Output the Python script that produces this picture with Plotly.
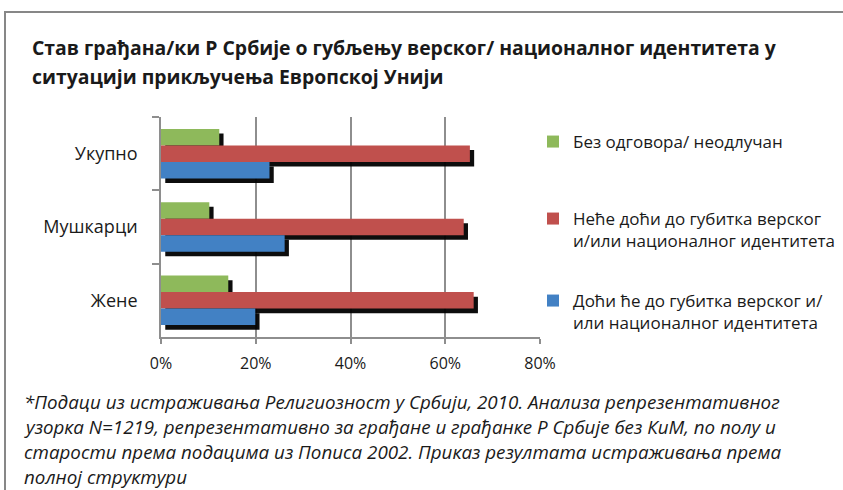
import plotly.graph_objects as go

# ---- data ----
categories = ["Укупно", "Мушкарци", "Жене"]
no_answer = [12.3, 10.2, 14.2]
will_not_lose = [65.2, 63.9, 66.0]
will_lose = [22.9, 26.1, 19.9]
series_names = [
    "Без одговора/ неодлучан",
    "Неће доћи до губитка верског<br>и/или националног идентитета",
    "Доћи ће до губитка верског и/<br>или националног идентитета",
]
x_ticks = [0, 20, 40, 60, 80]
x_tick_labels = ["0%", "20%", "40%", "60%", "80%"]
title_lines = [
    "Став грађана/ки Р Србије о губљењу верског/ националног идентитета у",
    "ситуацији прикључења Европској Унији",
]
note_lines = [
    "*Подаци из истраживања Религиозност у Србији, 2010. Анализа репрезентативног",
    "узорка N=1219, репрезентативно за грађане и грађанке Р Србије без КиМ, по полу и",
    "старости према подацима из Пописа 2002. Приказ резултата истраживања према",
    "полној структури",
]

# ---- layout geometry (pixels) ----
W, H = 843, 490
L, R, T, B = 161, 303, 117, 153
PW, PH = W - L - R, H - T - B


def px(x):
    return (x - L) / PW


def py(y):
    return (H - B - y) / PH


FONT = "Open Sans, Noto Sans, DejaVu Sans, sans-serif"
colors = ["#8EB95B", "#C0504D", "#4281C4"]
values = [no_answer, will_not_lose, will_lose]
bar_w = 0.225
offsets = [-0.3375, -0.1125, 0.1125]
shadow_dx = 0.9
shadow_dy = 0.062

fig = go.Figure()

# shadows first
for vals, off in zip(values, offsets):
    fig.add_trace(go.Bar(
        y=categories, x=vals, base=shadow_dx, orientation="h",
        width=bar_w, offset=off + shadow_dy,
        marker=dict(color="rgba(0,0,0,0.95)", line=dict(width=0)),
        showlegend=False, hoverinfo="skip",
    ))

legend_ids = ["legend", "legend2", "legend3"]
for vals, off, col, name, lg in zip(values, offsets, colors, series_names, legend_ids):
    fig.add_trace(go.Bar(
        y=categories, x=vals, orientation="h", name=name,
        width=bar_w, offset=off,
        marker=dict(color=col, line=dict(width=0)),
        legend=lg,
    ))

legend_common = dict(
    font=dict(family=FONT, size=17, color="#1a1a1a"),
    bgcolor="rgba(0,0,0,0)", borderwidth=0, xanchor="left",
    valign="top", itemclick=False, itemdoubleclick=False,
)

fig.update_layout(
    width=W, height=H,
    margin=dict(l=L, r=R, t=T, b=B, pad=0, autoexpand=False),
    paper_bgcolor="white", plot_bgcolor="white",
    barmode="overlay",
    font=dict(family=FONT, color="#1a1a1a"),
    xaxis=dict(
        range=[0, 80], tickvals=x_ticks, ticktext=x_tick_labels,
        showgrid=True, gridcolor="#8E8E8E", gridwidth=1.6,
        showline=True, linecolor="#8E8E8E", linewidth=1.6,
        ticks="outside", ticklen=5, tickcolor="#8E8E8E", tickwidth=1.6,
        tickfont=dict(family=FONT, size=16, color="#1a1a1a"),
        ticklabelstandoff=6, zeroline=False, fixedrange=True, automargin=False,
    ),
    yaxis=dict(
        categoryorder="array", categoryarray=categories, autorange="reversed",
        showgrid=False, showline=True, linecolor="#8E8E8E", linewidth=1.6,
        ticks="outside", tickson="boundaries", ticklen=7, tickcolor="#8E8E8E", tickwidth=1.6,
        tickfont=dict(family=FONT, size=18, color="#1a1a1a"),
        ticklabelstandoff=18, fixedrange=True, automargin=False,
    ),
    legend=dict(x=px(533), y=py(142), yanchor="middle", **legend_common),
    legend2=dict(x=px(533), y=py(201), yanchor="top", **legend_common),
    legend3=dict(x=px(533), y=py(283), yanchor="top", **legend_common),
    showlegend=True,
)

# outer frame
fig.add_shape(type="rect", xref="paper", yref="paper",
              x0=px(5), x1=px(W + 20), y0=py(H + 20), y1=py(12),
              line=dict(color="#878787", width=2), fillcolor="rgba(0,0,0,0)", layer="below")

# title
for line, yc in zip(title_lines, [48, 76]):
    fig.add_annotation(text=f"<b>{line}</b>", xref="paper", yref="paper",
                       x=px(30), y=py(yc), xanchor="left", yanchor="middle",
                       showarrow=False, font=dict(family=FONT, size=19.4, color="#1a1a1a"))

# footnote
for line, yc in zip(note_lines, [402, 427, 452, 477]):
    fig.add_annotation(text=f"<i>{line}</i>", xref="paper", yref="paper",
                       x=px(22), y=py(yc), xanchor="left", yanchor="middle",
                       showarrow=False, font=dict(family=FONT, size=18.8, color="#1a1a1a"))

fig.write_html("out.html", config={"displayModeBar": False},
               post_script="document.body.style.margin='0';document.body.style.overflow='hidden';")
